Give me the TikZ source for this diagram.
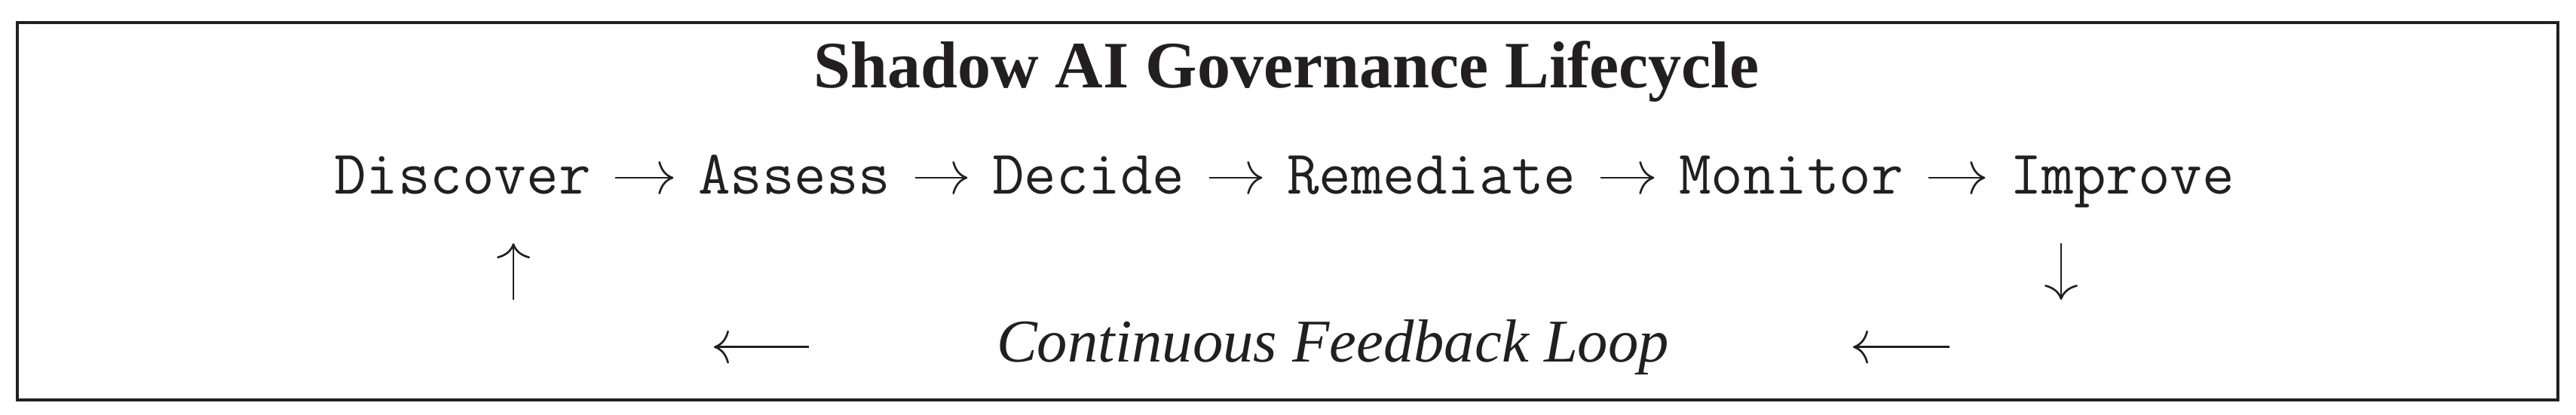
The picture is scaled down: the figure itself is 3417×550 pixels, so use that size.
\documentclass[tikz,border=0pt]{standalone}
\usepackage{fontspec}
\newfontfamily\serifT{Liberation Serif}
\usetikzlibrary{arrows.meta}
\definecolor{ink}{RGB}{35,31,32}
\begin{document}
\begin{tikzpicture}[x=0.15pt,y=-0.15pt,
  every node/.style={inner sep=0pt, text=ink},
  stage/.style={font=\fontsize{12.4}{15}\selectfont\ttfamily, text height=8pt, text depth=1.7pt, inner xsep=4.7pt, inner ysep=0pt, anchor=text},
  titletext/.style={font=\fontsize{13.2}{16}\selectfont\serifT\bfseries, anchor=base},
  looptext/.style={font=\fontsize{12.1}{15}\selectfont\serifT\itshape, anchor=base},
  conn/.style={draw=ink, line width=0.4pt, -{Computer Modern Rightarrow[length=3pt,width=6.6pt]}},
  frame/.style={draw=ink, line width=0.6pt}]
\useasboundingbox (0,0) rectangle (3417,550);
\draw[frame] (23,30) rectangle (3393,531.3);
% title
\node[titletext] (title) at (1706.5,116) {Shadow AI Governance Lifecycle};
% stages
\node[stage] (discover)  at (443,257)  {Discover};
\node[stage] (assess)    at (926,257)  {Assess};
\node[stage] (decide)    at (1316,257) {Decide};
\node[stage] (remediate) at (1707,257) {Remediate};
\node[stage] (monitor)   at (2227,257) {Monitor};
\node[stage] (improve)   at (2666,257) {Improve};
\draw[conn] (discover) -- (assess);
\draw[conn] (assess) -- (decide);
\draw[conn] (decide) -- (remediate);
\draw[conn] (remediate) -- (monitor);
\draw[conn] (monitor) -- (improve);
% feedback loop
\node[looptext] (loop) at (1768,480) {Continuous Feedback Loop};
\coordinate (upbot) at (681,398);
\coordinate (uptop) at (681,323);
\coordinate (dntop) at (2734,323);
\coordinate (dnbot) at (2734,398);
\coordinate (l1tail) at (1073,460.7);
\coordinate (l1tip)  at (947,460.7);
\coordinate (l2tail) at (2586,460.7);
\coordinate (l2tip)  at (2458,460.7);
\draw[conn] (upbot) -- (uptop);
\draw[conn] (dntop) -- (dnbot);
\draw[conn] (l1tail) -- (l1tip);
\draw[conn] (l2tail) -- (l2tip);
\end{tikzpicture}
\end{document}
